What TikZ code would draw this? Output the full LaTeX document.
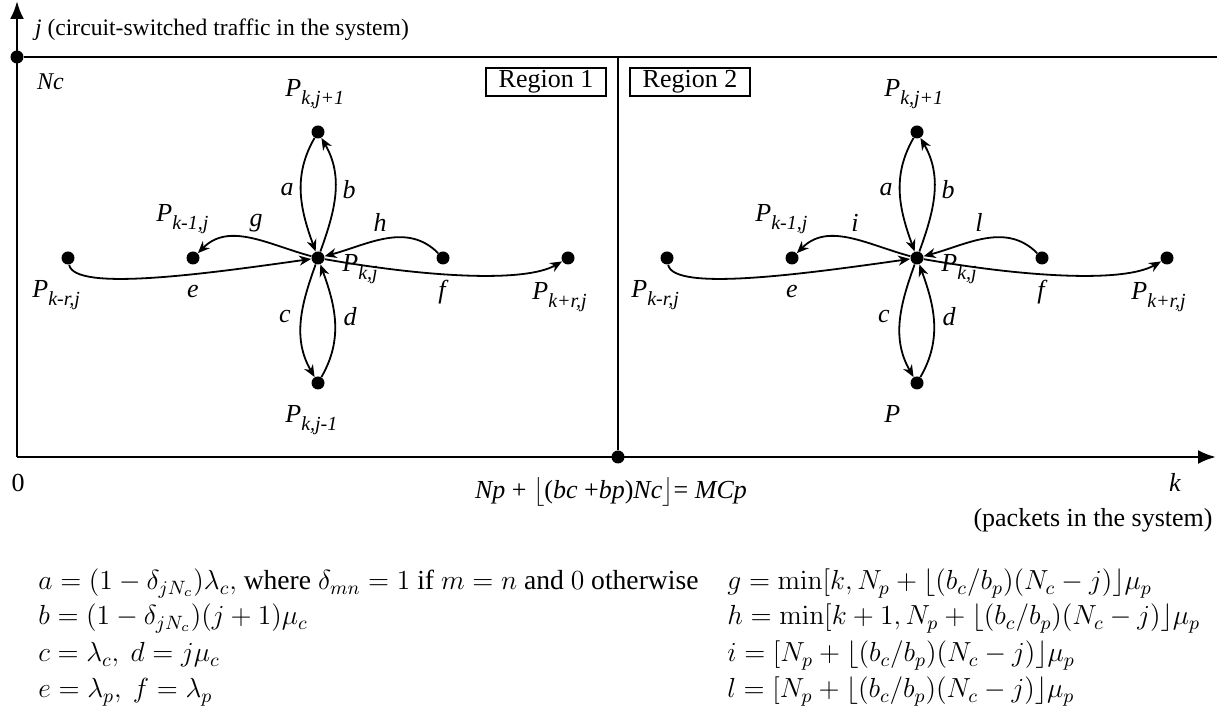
\RequirePackage{fix-cm}
\documentclass[tikz,border=0pt]{standalone}
\usepackage{amsmath}
\usepackage[no-math]{fontspec}
\setmainfont{Liberation Serif}
\usetikzlibrary{arrows.meta}
\newcommand{\pstate}[1]{\textit{P}\raisebox{-4pt}{\fontsize{10}{10}\selectfont\textit{#1}}}

\begin{document}
\begin{tikzpicture}[
    x=0.5pt, y=0.5pt,
    >={Stealth[length=6pt, width=5pt]},
    every node/.style={font=\fontsize{13}{15}\selectfont},
    dot/.style={circle, fill, inner sep=0pt, minimum size=6.5pt},
    arr/.style={->, line width=0.9pt},
    axis/.style={-{Latex[length=9pt, width=7pt]}, line width=1.3pt},
    frame/.style={line width=0.9pt},
    regionbox/.style={draw, line width=0.9pt, minimum width=60pt,
                      minimum height=14pt, inner sep=1pt},
    lbl/.style={font=\fontsize{13}{15}\selectfont\itshape},
    stlbl/.style={anchor=base west, inner sep=0pt},
    eqn/.style={anchor=base west, inner sep=0pt, font=\fontsize{13.8}{16}\selectfont},
]
\useasboundingbox (0,0) rectangle (1217,717);

% axes and the two regions
\coordinate (origin) at (17,260);
\coordinate (ytop)   at (17,716);
\coordinate (xend)   at (1216,260);
\coordinate (rend)   at (1217,660);
\coordinate (divtop) at (618,660);
\node[dot] (nc)  at (17,660) {};
\node[dot] (mcp) at (618,260) {};
\draw[axis] (origin) -- (ytop);
\draw[axis] (origin) -- (xend);
\draw[frame] (nc) -- (rend);
\draw[frame] (mcp) -- (divtop);

\node[anchor=west, font=\fontsize{11.8}{14}\selectfont] (ylabel) at (28,687) {\textit{j} (circuit-switched traffic in the system)};
\node[lbl, anchor=west, font=\fontsize{12}{14}\selectfont\itshape] (nclabel) at (30,635) {Nc};
\node[regionbox] (reg1) at (546,635) {Region 1};
\node[regionbox] (reg2) at (690,635) {Region 2};
\node (zero)  at (18,234) {0};
\node[lbl] (klabel) at (1175,235) {k};
\node (kdesc) at (1093,197) {(packets in the system)};
\node (mcplabel) at (611,225) {\textit{Np} + $\big\lfloor$(\textit{bc} +\textit{bp})\textit{Nc}$\big\rfloor$= \textit{MCp}};

% transitions around P_{k,j}, once per region
\foreach \r/\dx/\lg/\lh/\bot in {1/0/g/h/{\pstate{k,j-1}}, 2/599/i/l/{\textit{P}}} {
  \begin{scope}[shift={(\dx,0)}]
    \node[dot] (c\r)  at (318,459) {};
    \node[dot] (t\r)  at (318,585) {};
    \node[dot] (b\r)  at (318,334) {};
    \node[dot] (fl\r) at (68,459) {};
    \node[dot] (nl\r) at (193,459) {};
    \node[dot] (nr\r) at (443,459) {};
    \node[dot] (fr\r) at (568,459) {};

    \node[stlbl] (tl\r)  at (285,620) {\pstate{k,j+1}};
    \node[stlbl] (bl\r)  at (285,294) {\bot};
    \node[stlbl] (nll\r) at (156,495) {\pstate{k-1,j}};
    \node[stlbl] (fll\r) at (32,419)  {\pstate{k-r,j}};
    \node[stlbl] (frl\r) at (532,417) {\pstate{k+r,j}};
    \node[stlbl] (cl\r)  at (342,445) {\pstate{k,j}};

    \draw[arr] (t\r) to[out=-120, in=110] (c\r);
    \draw[arr] (c\r) to[out=70, in=-60] (t\r);
    \draw[arr] (c\r) to[out=-110, in=120] (b\r);
    \draw[arr] (b\r) to[out=60, in=-70] (c\r);
    \draw[arr] (c\r) to[out=165, in=45] (nl\r);
    \draw[arr] (nr\r) to[out=135, in=15] (c\r);
    \draw[arr] (fl\r) .. controls +(-80:35) and +(188:110) .. (c\r);
    \draw[arr] (c\r) .. controls +(-10:110) and +(-150:50) .. (fr\r);

    \node[lbl] (la\r) at (287,527) {a};
    \node[lbl] (lb\r) at (349,527) {b};
    \node[lbl] (lc\r) at (285,400) {c};
    \node[lbl] (ld\r) at (350,400) {d};
    \node[lbl] (lg\r) at (256,494) {\lg};
    \node[lbl] (lh\r) at (380,495) {\lh};
    \node[lbl] (le\r) at (193,425) {e};
    \node[lbl] (lf\r) at (442,425) {f};
  \end{scope}
}

% rates
\node[eqn] (eqa) at (38,127) {$a=(1-\delta_{jN_c})\lambda_c,$ where $\delta_{mn}=1$ if $m=n$ and $0$ otherwise};
\node[eqn] (eqb) at (38,92)  {$b=(1-\delta_{jN_c})(j+1)\mu_c$};
\node[eqn] (eqc) at (38,55)  {$c=\lambda_c,\ d=j\mu_c$};
\node[eqn] (eqe) at (38,19)  {$e=\lambda_p,\ f=\lambda_p$};
\node[eqn] (eqg) at (727,127) {$g=\min[k,N_p+\lfloor(b_c/b_p)(N_c-j)\rfloor\mu_p$};
\node[eqn] (eqh) at (727,92)  {$h=\min[k+1,N_p+\lfloor(b_c/b_p)(N_c-j)\rfloor\mu_p$};
\node[eqn] (eqi) at (727,55)  {$i=[N_p+\lfloor(b_c/b_p)(N_c-j)\rfloor\mu_p$};
\node[eqn] (eql) at (727,19)  {$l=[N_p+\lfloor(b_c/b_p)(N_c-j)\rfloor\mu_p$};
\end{tikzpicture}
\end{document}
